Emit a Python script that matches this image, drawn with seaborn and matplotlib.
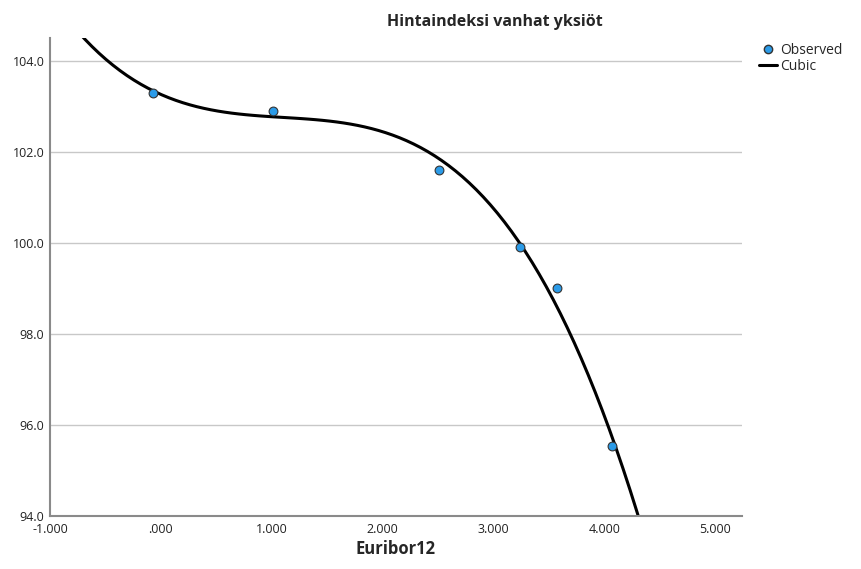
import pandas as pd
import matplotlib
matplotlib.use("Agg")
import matplotlib.pyplot as plt
from matplotlib.lines import Line2D
from matplotlib.ticker import FuncFormatter
import seaborn as sns

euribor12 = [-0.07, 1.01, 2.51, 3.24, 3.57, 4.07]
hintaindeksi = [103.30, 102.90, 101.60, 99.91, 99.01, 95.54]

x_ticks = [-1, 0, 1, 2, 3, 4, 5]
y_ticks = [94, 96, 98, 100, 102, 104]

df = pd.DataFrame({"Euribor12": euribor12, "Hintaindeksi": hintaindeksi})

sns.set_style("white")
plt.rcParams["font.family"] = ["Open Sans", "DejaVu Sans"]

fig = plt.figure(figsize=(8.61, 5.69), dpi=100)
ax = fig.add_axes([50 / 861, 1 - 516 / 569, 692 / 861, 478 / 569])
ax.set_xlim(-1.0, 5.24)
ax.set_ylim(94.0, 104.5)

# cubic fit over the full x range, then observed points on top
sns.regplot(
    data=df, x="Euribor12", y="Hintaindeksi", order=3, ci=None, truncate=False,
    scatter=False, line_kws={"color": "black", "linewidth": 2.2}, ax=ax,
)
sns.scatterplot(
    data=df, x="Euribor12", y="Hintaindeksi", color="#2b9be8", edgecolor="#333333",
    linewidth=0.8, s=40, zorder=3, ax=ax,
)
ax.set_xlim(-1.0, 5.24)
ax.set_ylim(94.0, 104.5)

ax.set_xticks(x_ticks)
ax.set_yticks(y_ticks)
ax.xaxis.set_major_formatter(FuncFormatter(lambda v, p: ".000" if v == 0 else f"{v:.3f}"))
ax.yaxis.set_major_formatter(FuncFormatter(lambda v, p: f"{v:.1f}"))
ax.tick_params(axis="both", labelsize=9, colors="#222222", length=0)
ax.tick_params(axis="x", pad=5)
ax.tick_params(axis="y", pad=4)
ax.yaxis.grid(True, color="#c8c8c8", linewidth=1)
ax.set_axisbelow(True)
for side in ["top", "right"]:
    ax.spines[side].set_visible(False)
for side in ["left", "bottom"]:
    ax.spines[side].set_color("#8a8a8a")
    ax.spines[side].set_linewidth(1.5)

ax.set_ylabel("")
ax.set_xlabel("Euribor12", fontsize=12, fontweight="bold", labelpad=3)
fig.text(495 / 861, 1 - 22 / 569, "Hintaindeksi vanhat yksiöt", ha="center",
         va="center", fontsize=11.5, fontweight="bold")

handles = [
    Line2D([], [], marker="o", linestyle="", markerfacecolor="#2b9be8",
           markeredgecolor="#333333", markersize=6),
    Line2D([], [], color="black", linewidth=2.2),
]
fig.legend(handles, ["Observed", "Cubic"], loc="upper left",
           bbox_to_anchor=(752 / 861, 1 - 36 / 569), frameon=False, fontsize=10,
           handlelength=1.3, handletextpad=0.2, labelspacing=0.1, borderpad=0)

fig.savefig("out.png", dpi=100)
